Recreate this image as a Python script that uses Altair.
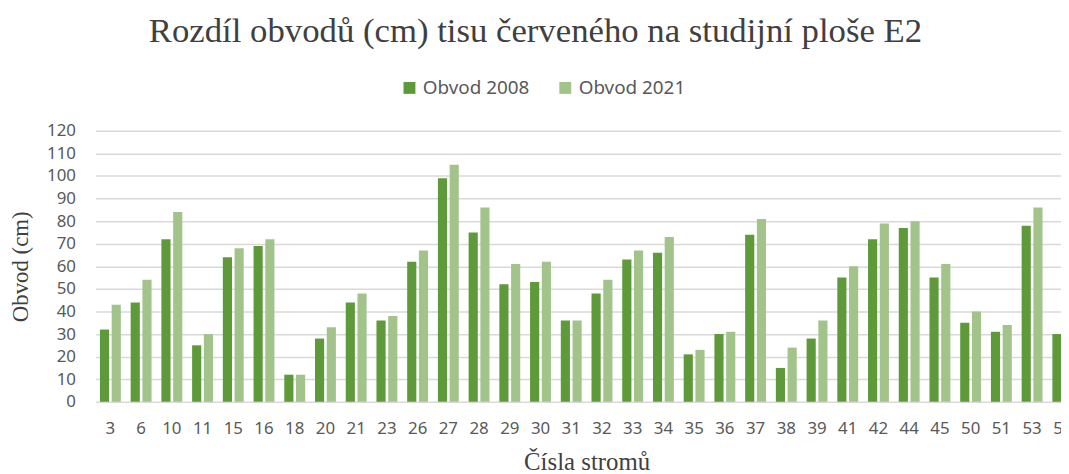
import altair as alt
import pandas as pd

trees = ["3", "6", "10", "11", "15", "16", "18", "20", "21", "23", "26", "27", "28", "29", "30", "31",
         "32", "33", "34", "35", "36", "37", "38", "39", "41", "42", "44", "45", "50", "51", "53", "55"]
obvod_2008 = [32, 44, 72, 25, 64, 69, 12, 28, 44, 36, 62, 99, 75, 52, 53, 36,
              48, 63, 66, 21, 30, 74, 15, 28, 55, 72, 77, 55, 35, 31, 78, 30]
obvod_2021 = [43, 54, 84, 30, 68, 72, 12, 33, 48, 38, 67, 105, 86, 61, 62, 36,
              54, 67, 73, 23, 31, 81, 24, 36, 60, 79, 80, 61, 40, 34, 86, 40]
series = ["Obvod 2008", "Obvod 2021"]
colors = ["#5F9A3A", "#A2C48B"]

rows = []
for i, t in enumerate(trees):
    rows.append({"strom": t, "rada": series[0], "obvod": obvod_2008[i]})
    rows.append({"strom": t, "rada": series[1], "obvod": obvod_2021[i]})
df = pd.DataFrame(rows)

chart = alt.Chart(df).mark_bar().encode(
    x=alt.X("strom:N", sort=trees,
            scale=alt.Scale(range=[0, 990], paddingInner=0.32, paddingOuter=0.15),
            axis=alt.Axis(title="Čísla stromů", labelAngle=0, ticks=False, domain=False,
                          labelFont="Noto Sans", labelFontSize=17, labelColor="#595959",
                          labelPadding=19, titleFont="Liberation Serif", titleFontSize=25,
                          titleFontWeight="normal", titleColor="#404040", titlePadding=13)),
    xOffset=alt.XOffset("rada:N", sort=series, scale=alt.Scale(paddingInner=0.22)),
    y=alt.Y("obvod:Q", scale=alt.Scale(domain=[0, 120]),
            axis=alt.Axis(title="Obvod (cm)", values=list(range(0, 121, 10)), ticks=False,
                          domain=False, grid=True, gridColor="#D9D9D9", gridWidth=1.5,
                          labelFont="Noto Sans", labelFontSize=17, labelColor="#595959",
                          labelPadding=20, titleFont="Liberation Serif", titleFontSize=23,
                          titleFontWeight="normal", titleColor="#404040", titlePadding=14)),
    color=alt.Color("rada:N", sort=series, scale=alt.Scale(domain=series, range=colors),
                    legend=alt.Legend(title=None, orient="none", direction="horizontal",
                                      legendX=307, legendY=-53, symbolType="square",
                                      symbolSize=144, symbolStrokeWidth=0,
                                      labelFont="Noto Sans", labelFontSize=19,
                                      labelColor="#595959", columnPadding=26)),
).properties(
    width=973, height=273,
    autosize=alt.AutoSizeParams(type="none"),
    padding={"left": 88, "top": 122, "right": 0, "bottom": 71},
    title=alt.TitleParams("Rozdíl obvodů (cm) tisu červeného na studijní ploše E2",
                          font="Liberation Serif", fontSize=35, fontWeight="normal",
                          color="#404040", anchor="middle", dx=-43, offset=30),
).configure_view(stroke=None)

chart.save("out.html", embed_options={"renderer": "svg", "actions": False})
